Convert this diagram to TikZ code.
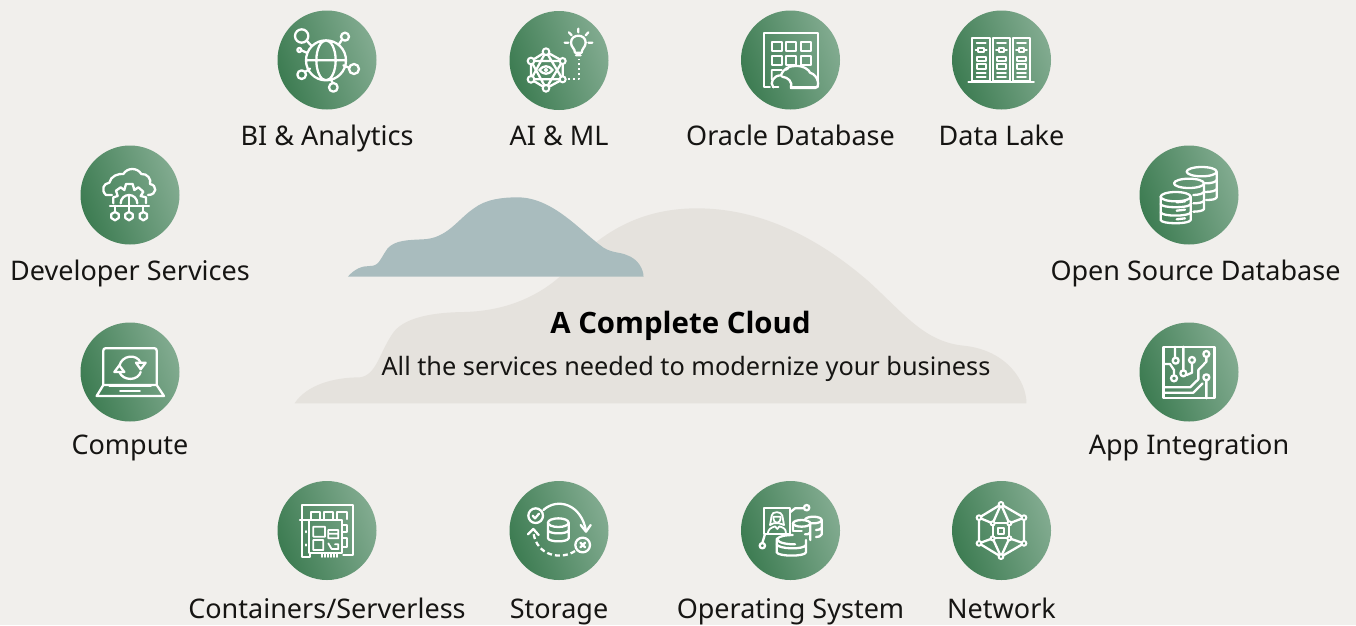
\documentclass[tikz,border=0pt]{standalone}
\usepackage{fontspec}
\setmainfont{Noto Sans}
\newfontfamily\titlefont{Open Sans}[BoldFont={Open Sans Bold}]
\definecolor{paper}{HTML}{F1EFEC}
\definecolor{cloudgray}{HTML}{E5E2DD}
\definecolor{cloudblue}{HTML}{A9BCBE}
\definecolor{inkc}{HTML}{161513}
\definecolor{gdark}{HTML}{3D7C52}
\definecolor{glight}{HTML}{82AB90}
\definecolor{gmid}{HTML}{5D9270}
\tikzset{
  badge/.style={circle,minimum size=99pt,inner sep=0pt,shade,left color=gdark,right color=glight,shading angle=110},
  lbl/.style={anchor=base,text=inkc,font=\fontsize{27}{27}\selectfont,inner sep=0pt},
  ic/.style={draw=white,line width=2.3pt,line cap=round,line join=round},
  thin ic/.style={draw=white,line width=1.8pt,line cap=round,line join=round},
  zm/.style 2 args={shift={(#1,#2)},x=0.33333pt,y=-0.33333pt},
  dot/.style={draw=white,fill=gmid,line width=2pt}
}
\begin{document}
\begin{tikzpicture}[x=1pt,y=-1pt]
\path[use as bounding box,fill=paper] (0,0) rectangle (1356,625);
% clouds
\begin{scope}[shift={(280,185)},x=0.48473pt,y=-0.33333pt]
\fill[cloudgray] (30,655) .. controls (55,600) and (110,577) .. (165,577)
  .. controls (200,570) and (205,500) .. (235,440)
  .. controls (260,395) and (320,382) .. (380,381)
  .. controls (460,378) and (530,340) .. (585,265)
  .. controls (640,175) and (720,70) .. (860,70)
  .. controls (1000,70) and (1120,170) .. (1215,290)
  .. controls (1290,390) and (1330,470) .. (1410,482)
  .. controls (1500,495) and (1540,590) .. (1540,655) -- cycle;
\fill[cloudblue] (140,275) .. controls (155,250) and (170,243) .. (185,243)
  .. controls (205,243) and (205,225) .. (222,190)
  .. controls (238,165) and (265,165) .. (295,163)
  .. controls (345,160) and (365,105) .. (400,70)
  .. controls (425,42) and (460,37) .. (490,37)
  .. controls (560,37) and (615,130) .. (660,180)
  .. controls (680,205) and (700,200) .. (715,210)
  .. controls (740,222) and (750,255) .. (750,275) -- cycle;
\end{scope}
% badges
\node[badge] (bi) at (327,60) {};
\node[badge] (ai) at (559,60.5) {};
\node[badge] (db) at (790.5,60) {};
\node[badge] (lake) at (1001.5,60) {};
\node[badge] (dev) at (130,195) {};
\node[badge] (comp) at (130,372) {};
\node[badge] (oss) at (1189,195) {};
\node[badge] (app) at (1189,372) {};
\node[badge] (cont) at (327,530.5) {};
\node[badge] (stor) at (559,530.5) {};
\node[badge] (os) at (790.5,530.5) {};
\node[badge] (net) at (1001.5,530.5) {};
% labels
\node[lbl] (lbi) at (327,145) {BI \& Analytics};
\node[lbl] (lai) at (559,145) {AI \& ML};
\node[lbl] (ldb) at (790.5,145) {Oracle Database};
\node[lbl] (llake) at (1001.5,145) {Data Lake};
\node[lbl] (ldev) at (130,280) {Developer Services};
\node[lbl] (loss) at (1195.5,280) {Open Source Database};
\node[lbl] (lcomp) at (130,454) {Compute};
\node[lbl] (lapp) at (1189,454) {App Integration};
\node[lbl] (lcont) at (327,618) {Containers/Serverless};
\node[lbl] (lstor) at (559,618) {Storage};
\node[lbl] (los) at (790.5,618) {Operating System};
\node[lbl] (lnet) at (1001.5,618) {Network};
\node[anchor=base,text=black,inner sep=0pt,font=\titlefont\fontsize{29.4}{30}\selectfont\bfseries] (title) at (680.5,333) {A Complete Cloud};
\node[anchor=base,text=inkc,inner sep=0pt,font=\fontsize{25.3}{26}\selectfont] (sub) at (686,375) {All the services needed to modernize your business};
% BI icon
\begin{scope}[zm={260}{0}]
\draw[ic] (198,181) circle[radius=60] (198,181) circle[x radius=29,y radius=60] (138,181) -- (258,181);
\draw[ic] (125,108) circle[radius=20] (255,110) circle[radius=12] (118,150) circle[radius=6] (125,224) circle[radius=13] (282,207) circle[radius=15] (220,262) circle[radius=13];
\draw[ic] (140,122) -- (155,138) (246,119) -- (236,134) (124,151) -- (140,158) (135,216) -- (150,206) (267,203) -- (250,196) (218,249) -- (213,238);
% AI icon
\draw[ic] (858,155) -- (908,183) -- (908,238) -- (858,265) -- (813,238) -- (813,183) -- cycle;
\draw[ic] (858,155) -- (813,238) (858,155) -- (908,238) (813,183) -- (858,265) (908,183) -- (858,265) (813,183) -- (908,183) (813,238) -- (908,238);
\path[dot] (858,155) circle[radius=10] (908,183) circle[radius=9] (908,238) circle[radius=9] (858,265) circle[radius=10] (813,238) circle[radius=10] (813,183) circle[radius=10];
\draw[ic,fill=gmid] (838,210) .. controls (850,195) and (866,195) .. (878,210) .. controls (866,225) and (850,225) .. (838,210) -- cycle;
\fill[white] (858,210) circle[radius=6];
\draw[ic,dash pattern=on 2pt off 3pt,line cap=butt] (925,238) -- (957,238) -- (957,178);
\draw[ic] (945,158) .. controls (945,145) and (933,142) .. (933,128) .. controls (933,100) and (977,100) .. (977,128) .. controls (977,142) and (965,145) .. (965,158) -- cycle (948,166) -- (962,166);
\draw[ic] (955,86) -- (955,97) (927,97) -- (935,106) (985,97) -- (977,106) (914,128) -- (925,128) (985,128) -- (997,128);
\end{scope}
% Oracle DB and Lake icons
\begin{scope}[zm={720}{0}]
\draw[thin ic] (150,262) -- (133,262) -- (133,98) -- (295,98) -- (295,262) -- (212,262);
\foreach \xa in {155,198,242}{\foreach \ya in {125,167}{\draw[thin ic] (\xa,\ya) rectangle +(30,28);}}
\draw[thin ic] (155,238) -- (155,210) -- (185,210) (198,210) -- (205,205);
\draw[ic] (160,262) .. controls (148,248) and (160,226) .. (183,226) .. controls (190,205) and (208,198) .. (225,198) .. controls (250,196) and (268,210) .. (270,218) .. controls (295,225) and (302,262) .. (285,264) -- (213,264) .. controls (218,245) and (205,232) .. (186,230);
\draw[ic] (160,262) -- (175,262);
\foreach \xa in {757,818,878}{
 \draw[thin ic] (\xa,115) rectangle +(52,128);
 \draw[thin ic] (\xa+13,130) -- +(27,0) (\xa+13,220) -- +(27,0) (\xa+13,231) -- +(27,0);
 \draw[thin ic] (\xa+18,144) rectangle +(17,12) (\xa+10,150) -- +(8,0) (\xa+35,150) -- +(8,0);
 \draw[thin ic] (\xa+13,170) rectangle +(27,13) (\xa+13,193) rectangle +(27,14);
}
\draw[thin ic] (745,246) -- (942,246);
\end{scope}
% Dev and Compute icons
\begin{scope}[zm={70}{140}]
\draw[ic] (126,165) -- (108,165) .. controls (92,150) and (100,130) .. (118,128) .. controls (122,108) and (145,100) .. (160,102) .. controls (172,82) and (202,82) .. (214,102) .. controls (232,100) and (245,118) .. (240,132) .. controls (262,135) and (262,165) .. (234,165);
\draw[ic] (130,190) -- (130,172) -- (143,168) -- (138,152) -- (152,142) -- (163,150) -- (168,132) -- (188,132) -- (193,150) -- (205,142) -- (220,155) -- (212,168) -- (228,172) -- (228,190);
\draw[ic] (152,190) arc[start angle=180,end angle=360,radius=25];
\draw[ic] (120,197) -- (237,197) (135,197) -- (135,216) (177,165) -- (177,216) (220,197) -- (220,216);
\foreach \xa in {135,177,220}{\draw[ic] (\xa,216) -- +(11,6) -- +(11,18) -- +(0,25) -- +(-11,18) -- +(-11,6) -- cycle;}
% compute
\draw[ic] (100,735) -- (100,632) .. controls (100,627) and (102,625) .. (106,625) -- (254,625) .. controls (258,625) and (260,627) .. (260,632) -- (260,735);
\draw[ic] (100,735) -- (80,768) -- (282,768) -- (260,735) -- cycle;
\draw[thin ic] (118,739) -- (243,739) (150,753) -- (210,753);
\draw[ic] (148,678) .. controls (155,645) and (200,640) .. (212,668);
\draw[ic] (198,668) -- (227,668) -- (212,688) -- cycle;
\draw[ic] (212,696) .. controls (205,722) and (160,725) .. (148,696);
\draw[ic] (133,696) -- (163,696) -- (148,676) -- cycle;
\end{scope}
% OSS and App icons
\begin{scope}[zm={1130}{140}]
\draw[ic] (215,95) circle[x radius=45,y radius=14];
\draw[ic] (260,95) -- (260,172) .. controls (258,178) and (245,180) .. (228,180);
\draw[ic] (260,120) .. controls (258,126) and (245,130) .. (225,130) (260,147) .. controls (258,152) and (245,156) .. (225,156);
\draw[ic] (177,130) circle[x radius=45,y radius=14];
\draw[ic] (222,130) -- (222,207) .. controls (220,212) and (205,215) .. (190,215);
\draw[ic] (222,155) .. controls (220,161) and (205,165) .. (190,165) (222,182) .. controls (220,187) and (205,190) .. (190,190);
\draw[ic] (137,170) circle[x radius=45,y radius=14];
\draw[ic] (92,170) -- (92,240) .. controls (95,253) and (179,253) .. (182,240) -- (182,170);
\draw[ic] (92,192) .. controls (95,205) and (179,205) .. (182,192) (92,217) .. controls (95,230) and (179,230) .. (182,217);
\draw[ic] (140,187) -- (165,184) (140,212) -- (165,209) (140,238) -- (165,235);
% app
\draw[ic] (100,620) rectangle (253,775);
\draw[ic] (135,620) -- (135,652) (160,620) -- (160,690) (100,672) -- (120,672) -- (132,690) -- (132,705) (186,670) -- (186,698) -- (170,705)
 (229,652) -- (229,665) -- (205,690) -- (205,718) -- (180,742) -- (100,742) (100,758) -- (190,758) -- (218,730) (229,722) -- (229,775);
\draw[ic] (137,662) circle[radius=9] (160,700) circle[radius=9] (132,715) circle[radius=9] (186,660) circle[radius=9] (229,642) circle[radius=9] (229,712) circle[radius=9];
\end{scope}
% Containers and Storage icons
\begin{scope}[zm={260}{475}]
\draw[ic] (127,133) -- (127,90) -- (280,90) -- (280,240) -- (250,240);
\foreach \xa in {152,192,232}{\draw[ic] (\xa,132) -- (\xa,110) -- +(28,0) -- +(28,22);}
\draw[thin ic] (250,150) -- (262,150) -- (262,170) -- (250,170) (250,190) -- (262,190) -- (262,215) -- (250,215);
\draw[ic] (120,135) -- (245,135) -- (245,233) -- (150,233) -- (150,245) -- (127,245) -- (127,135) (148,135) -- (148,233);
\draw[thin ic] (160,155) rectangle (195,185) (160,195) rectangle (190,225) (205,165) rectangle (235,190) (205,176) -- (235,176) (205,205) -- (215,222) -- (235,222) -- (235,208) -- (225,208);
\draw[thin ic] (138,168) -- (138,172) (138,208) -- (138,212);
\foreach \xa in {185,194,203,212,221,230}{\draw[thin ic] (\xa,238) -- (\xa,246);}
% storage
\draw[ic] (895,143) circle[x radius=31,y radius=13];
\draw[ic] (864,143) -- (864,190) .. controls (868,202) and (922,202) .. (926,190) -- (926,143) (864,166) .. controls (868,178) and (922,178) .. (926,166);
\draw[ic] (827,122) circle[radius=22] (968,210) circle[radius=22];
\draw[ic] (818,122) -- (825,130) -- (837,116);
\draw[ic] (961,203) -- (975,217) (975,203) -- (961,217);
\draw[ic] (850,105) .. controls (895,65) and (965,90) .. (978,168);
\draw[ic] (962,150) -- (978,170) -- (992,150);
\draw[ic,dash pattern=on 5pt off 3pt,line cap=butt] (945,228) .. controls (905,255) and (830,245) .. (820,172);
\draw[ic] (804,178) -- (820,162) -- (836,180);
\end{scope}
% OS and Network icons
\begin{scope}[zm={720}{475}]
\draw[ic] (133,100) rectangle (210,177);
\draw[ic] (210,112) -- (225,100) -- (250,100) (135,177) -- (127,204);
\draw[ic] (260,98) circle[radius=8] (127,212) circle[radius=8];
\draw[thin ic] (155,122) .. controls (155,108) and (185,108) .. (187,122) -- (192,150) -- (178,145) -- (160,145) -- (150,150) -- cycle;
\draw[thin ic] (160,125) -- (182,125) (160,125) .. controls (160,150) and (182,150) .. (182,125);
\draw[thin ic] (143,176) .. controls (145,160) and (155,158) .. (165,154) -- (172,162) -- (178,154) .. controls (190,158) and (198,160) .. (198,176);
\draw[ic] (280,135) ellipse[x radius=25,y radius=10];
\draw[ic] (305,135) -- (305,178) .. controls (303,184) and (295,186) .. (288,186) (305,158) .. controls (303,163) and (295,165) .. (288,165);
\draw[ic,fill=gmid] (245,145) ellipse[x radius=26,y radius=10];
\draw[ic] (271,145) -- (271,195) (219,145) -- (219,165) (271,172) .. controls (268,178) and (262,178) .. (255,178);
\draw[ic] (219,168) -- (245,168);
\draw[ic] (170,195) -- (170,232) .. controls (175,245) and (255,245) .. (258,232) -- (258,195);
\draw[ic] (170,192) .. controls (175,205) and (205,208) .. (225,208) (170,208) .. controls (175,222) and (250,225) .. (258,210);
\draw[ic] (170,192) .. controls (180,182) and (200,180) .. (218,180);
% network
\draw[ic] (843,88) -- (912,128) -- (912,205) -- (843,245) -- (777,205) -- (777,128) -- cycle;
\draw[ic] (818,145) rectangle (868,190) (834,158) rectangle (853,178);
\draw[ic] (843,88) -- (818,145) (843,88) -- (868,145) (777,128) -- (818,145) (912,128) -- (868,145) (777,205) -- (818,190) (912,205) -- (868,190) (843,245) -- (818,190) (843,245) -- (868,190);
\path[dot] (843,88) circle[radius=7] (912,128) circle[radius=7] (912,205) circle[radius=7] (843,245) circle[radius=7] (777,205) circle[radius=7] (777,128) circle[radius=7] (818,145) circle[radius=6] (868,145) circle[radius=6] (818,190) circle[radius=6] (868,190) circle[radius=6];
\end{scope}
\end{tikzpicture}
\end{document}
